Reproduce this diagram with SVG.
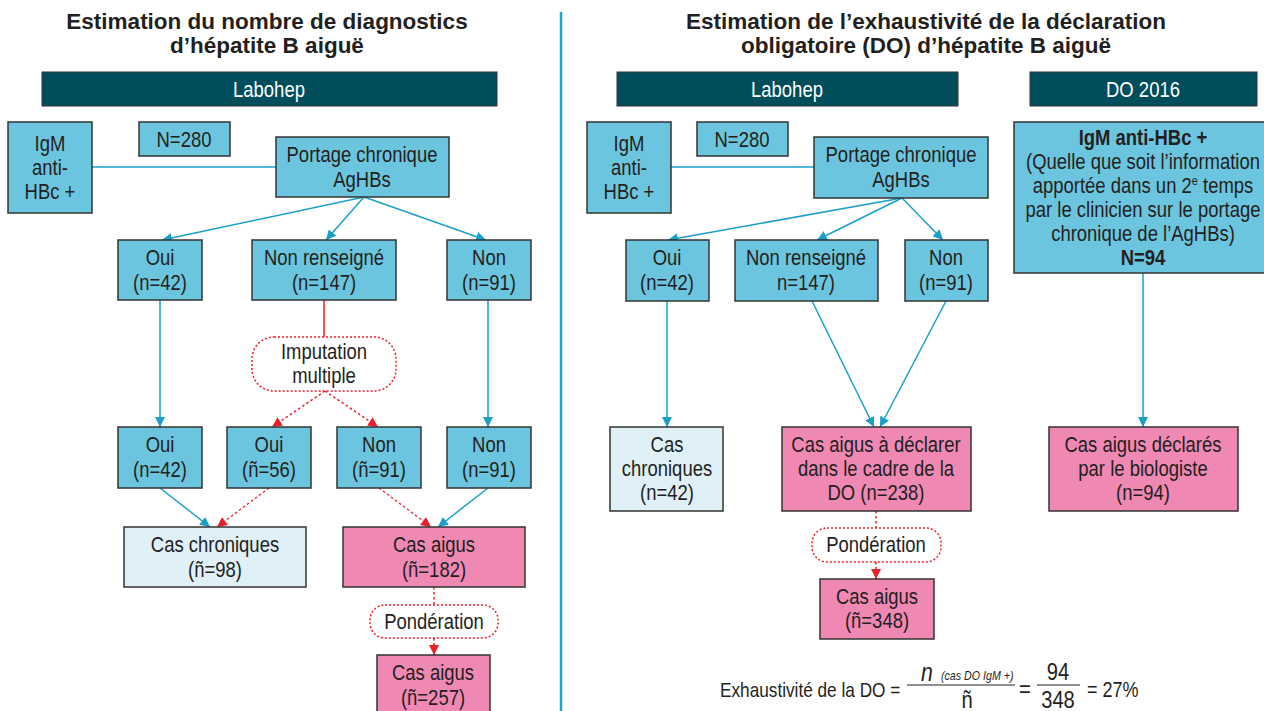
<svg xmlns="http://www.w3.org/2000/svg" width="1264" height="711" viewBox="0 0 1264 711">
<style>
text{font-family:"Liberation Sans",Arial,sans-serif;fill:#231f20;font-size:22px;text-anchor:middle;transform-box:fill-box;transform-origin:center;transform:scaleX(0.84)}
.title{font-weight:bold;font-size:22.5px;transform:none}
.bar{fill:#004d5c;stroke:#333;stroke-width:1}
.bartxt{fill:#fff;font-size:22px}
.box{fill:#6cc5de;stroke:#333;stroke-width:1.5}
.chro{fill:#dff0f7;stroke:#333;stroke-width:1.5}
.acute{fill:#f088b4;stroke:#333;stroke-width:1.5}
.dot{fill:#fff;stroke:#e8202a;stroke-width:1.5;stroke-dasharray:2 2}
.bl{stroke:#1aa0c8;stroke-width:1.5;fill:none}
.rd{stroke:#e8202a;stroke-width:1.5;fill:none;stroke-dasharray:2.5 2.5}
.rs{stroke:#e8202a;stroke-width:1.5;fill:none}
.b{font-weight:bold}
.f{text-anchor:start;transform-origin:left center;font-size:21px;transform:scaleX(0.82)}
.fe{font-size:22px}
.fm{font-size:24px;transform:scaleX(0.84)}
.fn{font-size:26px;font-style:italic}
.fs{font-size:13px;font-style:italic}
</style>
<defs>
<marker id="ab" viewBox="0 0 10 10" refX="10" refY="5" markerWidth="10" markerHeight="10" markerUnits="userSpaceOnUse" orient="auto"><path d="M0,0 L10,5 L0,10 z" fill="#1aa0c8"/></marker>
<marker id="ar" viewBox="0 0 10 10" refX="10" refY="5" markerWidth="10" markerHeight="10" markerUnits="userSpaceOnUse" orient="auto"><path d="M0,0 L10,5 L0,10 z" fill="#e8202a"/></marker>
</defs>

<line x1="561" y1="12" x2="561" y2="711" stroke="#1aa6cf" stroke-width="2.5"/>

<g id="titles">
<text class="title" x="267" y="29">Estimation du nombre de diagnostics</text>
<text class="title" x="267" y="53">d’hépatite B aiguë</text>
<text class="title" x="926" y="29">Estimation de l’exhaustivité de la déclaration</text>
<text class="title" x="926" y="53">obligatoire (DO) d’hépatite B aiguë</text>
</g>

<g id="connectors">
<line class="bl" x1="92" y1="167" x2="276" y2="167"/>
<line class="bl" x1="364" y1="197" x2="162" y2="240" marker-end="url(#ab)"/>
<line class="bl" x1="364" y1="197" x2="326" y2="240" marker-end="url(#ab)"/>
<line class="bl" x1="364" y1="197" x2="486" y2="240" marker-end="url(#ab)"/>
<line class="bl" x1="160" y1="300" x2="160" y2="427" marker-end="url(#ab)"/>
<line class="bl" x1="488" y1="300" x2="488" y2="427" marker-end="url(#ab)"/>
<line class="rs" x1="324" y1="300" x2="324" y2="337"/>
<line class="rd" x1="325" y1="391" x2="272" y2="427" marker-end="url(#ar)"/>
<line class="rd" x1="325" y1="391" x2="378" y2="427" marker-end="url(#ar)"/>
<line class="bl" x1="160" y1="488" x2="210" y2="527" marker-end="url(#ab)"/>
<line class="rd" x1="269" y1="488" x2="217" y2="527" marker-end="url(#ar)"/>
<line class="rd" x1="379" y1="488" x2="431" y2="527" marker-end="url(#ar)"/>
<line class="bl" x1="488" y1="488" x2="438" y2="527" marker-end="url(#ab)"/>
<line class="rd" x1="434" y1="587" x2="434" y2="605"/>
<line class="rd" x1="434" y1="638" x2="434" y2="655" marker-end="url(#ar)"/>

<line class="bl" x1="671" y1="167" x2="814" y2="167"/>
<line class="bl" x1="902" y1="198" x2="668" y2="240" marker-end="url(#ab)"/>
<line class="bl" x1="902" y1="198" x2="817" y2="240" marker-end="url(#ab)"/>
<line class="bl" x1="902" y1="198" x2="943" y2="240" marker-end="url(#ab)"/>
<line class="bl" x1="667" y1="301" x2="667" y2="427" marker-end="url(#ab)"/>
<line class="bl" x1="812" y1="301" x2="874" y2="427" marker-end="url(#ab)"/>
<line class="bl" x1="946" y1="301" x2="880" y2="427" marker-end="url(#ab)"/>
<line class="bl" x1="1143" y1="273" x2="1143" y2="427" marker-end="url(#ab)"/>
<line class="rd" x1="876" y1="511" x2="876" y2="528"/>
<line class="rd" x1="876" y1="562" x2="876" y2="579" marker-end="url(#ar)"/>
</g>

<g id="left-labohep"><rect class="bar" x="42" y="72" width="455" height="34"/><text class="bartxt" x="269" y="97">Labohep</text></g>
<g id="left-igm"><rect class="box" x="8" y="122" width="84" height="91"/><text x="50" y="151">IgM</text><text x="50" y="175">anti-</text><text x="50" y="199">HBc +</text></g>
<g id="left-n280"><rect class="box" x="139" y="122" width="91" height="34"/><text x="184" y="147">N=280</text></g>
<g id="left-portage"><rect class="box" x="276" y="137" width="173" height="60"/><text x="362" y="162">Portage chronique</text><text x="362" y="187">AgHBs</text></g>
<g id="left-oui"><rect class="box" x="118" y="240" width="84" height="60"/><text x="160" y="265">Oui</text><text x="160" y="290">(n=42)</text></g>
<g id="left-nr"><rect class="box" x="252" y="240" width="144" height="60"/><text x="324" y="265">Non renseigné</text><text x="324" y="290">(n=147)</text></g>
<g id="left-non"><rect class="box" x="447" y="240" width="84" height="60"/><text x="489" y="265">Non</text><text x="489" y="290">(n=91)</text></g>
<g id="left-imput"><rect class="dot" x="252" y="337" width="144" height="54" rx="22"/><text x="324" y="359">Imputation</text><text x="324" y="383">multiple</text></g>
<g id="left-oui2"><rect class="box" x="118" y="427" width="84" height="61"/><text x="160" y="452">Oui</text><text x="160" y="477">(n=42)</text></g>
<g id="left-oui3"><rect class="box" x="227" y="427" width="84" height="61"/><text x="269" y="452">Oui</text><text x="269" y="477">(ñ=56)</text></g>
<g id="left-non2"><rect class="box" x="337" y="427" width="84" height="61"/><text x="379" y="452">Non</text><text x="379" y="477">(ñ=91)</text></g>
<g id="left-non3"><rect class="box" x="447" y="427" width="84" height="61"/><text x="489" y="452">Non</text><text x="489" y="477">(n=91)</text></g>
<g id="left-chro"><rect class="chro" x="124" y="527" width="182" height="60"/><text x="215" y="552">Cas chroniques</text><text x="215" y="577">(ñ=98)</text></g>
<g id="left-aigus"><rect class="acute" x="343" y="527" width="182" height="60"/><text x="434" y="552">Cas aigus</text><text x="434" y="577">(ñ=182)</text></g>
<g id="left-ponder"><rect class="dot" x="370" y="605" width="128" height="33" rx="15"/><text x="434" y="629">Pondération</text></g>
<g id="left-aigus2"><rect class="acute" x="377" y="655" width="113" height="62"/><text x="433" y="680">Cas aigus</text><text x="433" y="705">(ñ=257)</text></g>

<g id="right-labohep"><rect class="bar" x="617" y="72" width="341" height="34"/><text class="bartxt" x="787" y="97">Labohep</text></g>
<g id="right-do2016"><rect class="bar" x="1030" y="72" width="227" height="34"/><text class="bartxt" x="1143" y="97">DO 2016</text></g>
<g id="right-igm"><rect class="box" x="587" y="122" width="84" height="91"/><text x="629" y="151">IgM</text><text x="629" y="175">anti-</text><text x="629" y="199">HBc +</text></g>
<g id="right-n280"><rect class="box" x="697" y="122" width="91" height="34"/><text x="742" y="147">N=280</text></g>
<g id="right-portage"><rect class="box" x="814" y="137" width="174" height="61"/><text x="901" y="162">Portage chronique</text><text x="901" y="187">AgHBs</text></g>
<g id="right-oui"><rect class="box" x="626" y="240" width="83" height="61"/><text x="667" y="265">Oui</text><text x="667" y="290">(n=42)</text></g>
<g id="right-nr"><rect class="box" x="735" y="240" width="143" height="61"/><text x="806" y="265">Non renseigné</text><text x="806" y="290">n=147)</text></g>
<g id="right-non"><rect class="box" x="905" y="240" width="83" height="61"/><text x="946" y="265">Non</text><text x="946" y="290">(n=91)</text></g>
<g id="right-do"><rect class="box" x="1014" y="122" width="260" height="151"/>
<text class="b" x="1143" y="145">IgM anti-HBc +</text>
<text x="1143" y="169">(Quelle que soit l’information</text>
<text x="1143" y="193">apportée dans un 2<tspan font-size="13" dy="-8">e</tspan><tspan dy="8"> temps</tspan></text>
<text x="1143" y="217">par le clinicien sur le portage</text>
<text x="1143" y="241">chronique de l’AgHBs)</text>
<text class="b" x="1143" y="265">N=94</text></g>
<g id="right-chro"><rect class="chro" x="610" y="427" width="113" height="84"/><text x="667" y="452">Cas</text><text x="667" y="476">chroniques</text><text x="667" y="500">(n=42)</text></g>
<g id="right-aigus"><rect class="acute" x="782" y="427" width="189" height="84"/><text x="876" y="452">Cas aigus à déclarer</text><text x="876" y="476">dans le cadre de la</text><text x="876" y="500">DO (n=238)</text></g>
<g id="right-declares"><rect class="acute" x="1049" y="427" width="189" height="84"/><text x="1143" y="452">Cas aigus déclarés</text><text x="1143" y="476">par le biologiste</text><text x="1143" y="500">(n=94)</text></g>
<g id="right-ponder"><rect class="dot" x="812" y="528" width="129" height="34" rx="15"/><text x="876" y="552">Pondération</text></g>
<g id="right-aigus2"><rect class="acute" x="820" y="579" width="114" height="60"/><text x="877" y="604">Cas aigus</text><text x="877" y="628">(ñ=348)</text></g>

<g id="formula">
<text class="f" x="720" y="697">Exhaustivité de la DO =</text>
<line x1="907" y1="685" x2="1015" y2="685" stroke="#231f20" stroke-width="1"/>
<text class="f fn" x="921" y="681">n</text>
<text class="f fs" x="941" y="680">(cas DO IgM +)</text>
<text class="fm" x="967" y="708">ñ</text>
<text class="fm fe" x="1025" y="697">=</text>
<line x1="1037" y1="685" x2="1080" y2="685" stroke="#231f20" stroke-width="1"/>
<text class="fm" x="1058" y="680">94</text>
<text class="fm" x="1058" y="708">348</text>
<text class="f fe" x="1087" y="697">= 27%</text>
</g>
</svg>
